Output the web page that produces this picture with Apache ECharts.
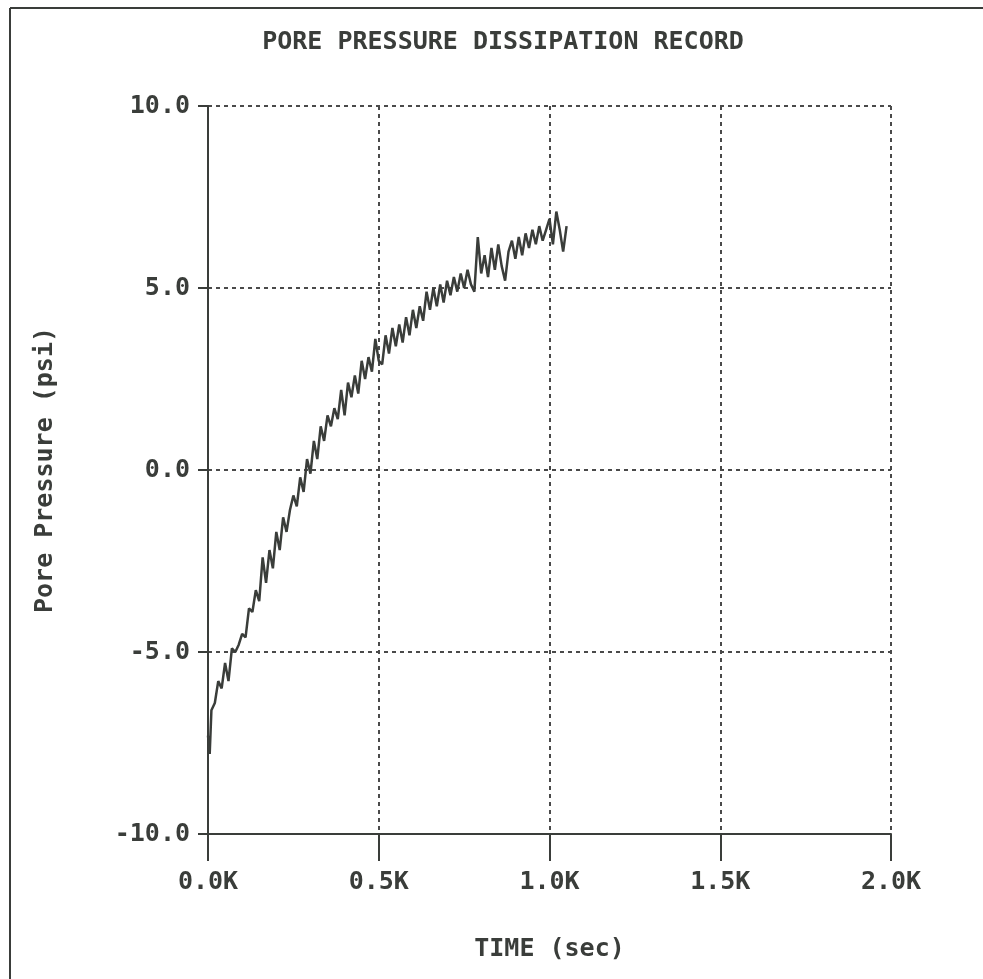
<!DOCTYPE html>
<html>
<head>
<meta charset="utf-8">
<script src="https://cdn.jsdelivr.net/npm/echarts@6/dist/echarts.min.js"></script>
<style>
html,body{margin:0;padding:0;background:#fff;}
#chart{width:983px;height:979px;}
</style>
</head>
<body>
<div id="chart"></div>
<script>
// ---- data ----
var titleText = 'PORE PRESSURE DISSIPATION RECORD';
var xAxisName = 'TIME (sec)';
var yAxisName = 'Pore Pressure (psi)';
var xTickLabels = ['0.0K', '0.5K', '1.0K', '1.5K', '2.0K'];
var yTickLabels = ['-10.0', '-5.0', '0.0', '5.0', '10.0'];
var timeSec = [0, 5, 10, 20, 30, 40, 50, 60, 70, 80, 90, 100, 110, 120, 130, 140, 150, 160, 170, 180, 190, 200,
  210, 220, 230, 240, 250, 260, 270, 280, 290, 300, 310, 320, 330, 340, 350, 360, 370, 380, 390, 400,
  410, 420, 430, 440, 450, 460, 470, 480, 490, 500, 510, 520, 530, 540, 550, 560, 570, 580, 590, 600,
  610, 620, 630, 640, 650, 660, 670, 680, 690, 700, 710, 720, 730, 740, 750, 760, 770, 780, 790, 800,
  810, 820, 830, 840, 850, 860, 870, 880, 890, 900, 910, 920, 930, 940, 950, 960, 970, 980, 990, 1000,
  1010, 1020, 1030, 1040, 1050];
var porePressure = [-7.3, -7.8, -6.6, -6.4, -5.8, -6.0, -5.3, -5.8, -4.9, -5.0, -4.8, -4.5, -4.6, -3.8, -3.9, -3.3, -3.6, -2.4, -3.1, -2.2, -2.7, -1.7,
  -2.2, -1.3, -1.7, -1.1, -0.7, -1.0, -0.2, -0.6, 0.3, -0.1, 0.8, 0.3, 1.2, 0.8, 1.5, 1.2, 1.7, 1.4, 2.2, 1.5,
  2.4, 2.0, 2.6, 2.1, 3.0, 2.5, 3.1, 2.7, 3.6, 3.0, 2.9, 3.7, 3.2, 3.9, 3.4, 4.0, 3.5, 4.2, 3.7, 4.4,
  3.9, 4.5, 4.1, 4.9, 4.4, 5.0, 4.5, 5.1, 4.6, 5.2, 4.8, 5.3, 4.9, 5.4, 5.0, 5.5, 5.1, 4.9, 6.4, 5.4,
  5.9, 5.3, 6.1, 5.5, 6.2, 5.6, 5.2, 6.0, 6.3, 5.8, 6.4, 5.9, 6.5, 6.1, 6.6, 6.2, 6.7, 6.3, 6.6, 6.9,
  6.2, 7.1, 6.6, 6.0, 6.7];

// ---- chart ----
var ink = '#3a3d3a';
var fontFam = '"DejaVu Sans Mono", "Liberation Mono", monospace';
var seriesData = timeSec.map(function (t, i) { return [t, porePressure[i]]; });

var chart = echarts.init(document.getElementById('chart'));
chart.setOption({
  backgroundColor: '#ffffff',
  animation: false,
  title: {
    text: titleText,
    left: 498,
    top: 25,
    textAlign: 'center',
    textStyle: { fontFamily: fontFam, fontWeight: 'bold', fontSize: 25, color: ink }
  },
  graphic: [
    { type: 'line', shape: { x1: 10, y1: 8, x2: 10, y2: 990 }, style: { stroke: ink, lineWidth: 2 } },
    { type: 'line', shape: { x1: 10, y1: 8, x2: 990, y2: 8 }, style: { stroke: ink, lineWidth: 2 } }
  ],
  grid: { left: 208, right: 92, top: 106, bottom: 145, containLabel: false },
  xAxis: {
    type: 'value',
    min: 0, max: 2000, interval: 500,
    name: xAxisName,
    nameLocation: 'middle',
    nameGap: 103,
    nameTextStyle: { fontFamily: fontFam, fontWeight: 'bold', fontSize: 25, color: ink },
    axisLine: { show: true, onZero: false, lineStyle: { color: ink, width: 2 } },
    axisTick: { show: true, length: 27, lineStyle: { color: ink, width: 2 } },
    axisLabel: {
      margin: 36,
      fontFamily: fontFam, fontWeight: 'bold', fontSize: 25, color: ink,
      formatter: function (v) { return xTickLabels[Math.round(v / 500)]; }
    },
    splitLine: { show: true, lineStyle: { color: '#4a4a4a', width: 2, type: [4, 4] } }
  },
  yAxis: {
    type: 'value',
    min: -10, max: 10, interval: 5,
    name: yAxisName,
    nameLocation: 'middle',
    nameRotate: 90,
    nameGap: 150,
    nameTextStyle: { fontFamily: fontFam, fontWeight: 'bold', fontSize: 25, color: ink },
    axisLine: { show: true, onZero: false, lineStyle: { color: ink, width: 2 } },
    axisTick: { show: true, length: 10, lineStyle: { color: ink, width: 2 } },
    axisLabel: {
      margin: 18,
      fontFamily: fontFam, fontWeight: 'bold', fontSize: 25, color: ink,
      formatter: function (v) { return yTickLabels[Math.round((v + 10) / 5)]; }
    },
    splitLine: { show: true, lineStyle: { color: '#4a4a4a', width: 2, type: [4, 4] } }
  },
  series: [{
    type: 'line',
    data: seriesData,
    showSymbol: false,
    smooth: false,
    lineStyle: { color: ink, width: 2.5 },
    z: 5
  }]
});
</script>
</body>
</html>
